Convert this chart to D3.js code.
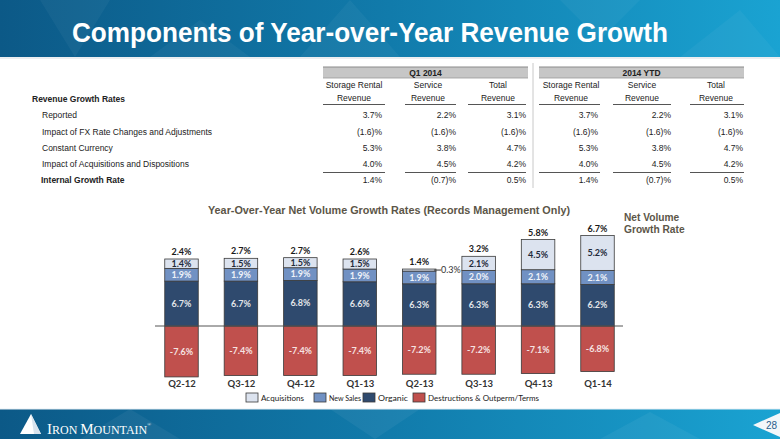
<!DOCTYPE html>
<html><head><meta charset="utf-8">
<script src="https://cdn.jsdelivr.net/npm/d3@7/dist/d3.min.js"></script>
<style>body{margin:0;background:#fff}svg{display:block}</style>
</head><body>
<svg id="c" width="780" height="439"></svg>
<script>
// ---------- data ----------
const title = "Components of Year-over-Year Revenue Growth";
const periodHeaders = ["Q1 2014", "2014 YTD"];
const columnHeaders = [["Storage Rental","Revenue"],["Service","Revenue"],["Total","Revenue"],["Storage Rental","Revenue"],["Service","Revenue"],["Total","Revenue"]];
const tableSection = "Revenue Growth Rates";
const rowLabels = ["Reported","Impact of FX Rate Changes and Adjustments","Constant Currency","Impact of Acquisitions and Dispositions","Internal Growth Rate"];
const rowValues = [
  ["3.7%","2.2%","3.1%","3.7%","2.2%","3.1%"],
  ["(1.6)%","(1.6)%","(1.6)%","(1.6)%","(1.6)%","(1.6)%"],
  ["5.3%","3.8%","4.7%","5.3%","3.8%","4.7%"],
  ["4.0%","4.5%","4.2%","4.0%","4.5%","4.2%"],
  ["1.4%","(0.7)%","0.5%","1.4%","(0.7)%","0.5%"]
];
const chartTitle = "Year-Over-Year Net Volume Growth Rates (Records Management Only)";
const quarters = ["Q2-12","Q3-12","Q4-12","Q1-13","Q2-13","Q3-13","Q4-13","Q1-14"];
const acquisitions = [1.4,1.5,1.5,1.5,0.3,2.1,4.5,5.2];
const newSales = [1.9,1.9,1.9,1.9,1.9,2.0,2.1,2.1];
const organic = [6.7,6.7,6.8,6.6,6.3,6.3,6.3,6.2];
const destructions = [-7.6,-7.4,-7.4,-7.4,-7.2,-7.2,-7.1,-6.8];
const netGrowth = [2.4,2.7,2.7,2.6,1.4,3.2,5.8,6.7];
const seriesNames = ["Acquisitions","New Sales","Organic","Destructions & Outperm/Terms"];
const pageNumber = "28";

// ---------- drawing ----------
const svg = d3.select("#c");
const defs = svg.append("defs");
const g1 = defs.append("linearGradient").attr("id","band").attr("x1","0").attr("x2","1").attr("y1","0").attr("y2","0");
g1.append("stop").attr("offset","0").attr("stop-color","#0c5987");
g1.append("stop").attr("offset","0.5").attr("stop-color","#117bab");
g1.append("stop").attr("offset","1").attr("stop-color","#1aa3d2");

// header banner
svg.append("rect").attr("x",0).attr("y",0).attr("width",780).attr("height",57).attr("fill","url(#band)");
const texture = [[[40,0],[110,0],[75,57]],[[300,57],[350,0],[400,57]],[[560,0],[640,0],[600,40]],[[680,57],[740,10],[780,57]],[[150,57],[200,20],[250,57]]];
svg.selectAll(".tx").data(texture).join("polygon").attr("points",d=>d.join(" ")).attr("fill","#ffffff").attr("opacity",0.04);
svg.append("line").attr("x1",0).attr("x2",780).attr("y1",58).attr("y2",58).attr("stroke","#d8dde2").attr("stroke-width",1);
svg.append("text").attr("x",370).attr("y",42).attr("text-anchor","middle")
  .attr("font-family","Liberation Sans, Arial, sans-serif").attr("font-weight","bold").attr("font-size",28)
  .attr("fill","#ffffff").attr("textLength",596).attr("lengthAdjust","spacingAndGlyphs").text(title);

// ---------- table ----------
const tf = "Liberation Sans, Arial, sans-serif";
const colRight = [382,456,526,598,671,743];
const colCenter = [354,428,498,571,642,716];
const colSpan = [[323,385],[405,456],[468,526],[539,600],[613,671],[690,744]];
const periodSpan = [[323,528],[539,744]];
const rowY = [115,131.5,147.5,163.5,180];
const tbl = svg.append("g").attr("font-family",tf).attr("font-size",8.5).attr("fill","#222");

periodSpan.forEach((s,i)=>{
  tbl.append("rect").attr("x",s[0]).attr("y",67).attr("width",s[1]-s[0]).attr("height",11).attr("fill","#c6c6c6");
  tbl.append("line").attr("x1",s[0]).attr("x2",s[1]).attr("y1",67).attr("y2",67).attr("stroke","#8a8a8a");
  tbl.append("line").attr("x1",s[0]).attr("x2",s[1]).attr("y1",78).attr("y2",78).attr("stroke","#9a9a9a").attr("stroke-width",0.8);
  tbl.append("text").attr("x",(s[0]+s[1])/2).attr("y",75.5).attr("text-anchor","middle").attr("font-weight","bold").text(periodHeaders[i]);
});
columnHeaders.forEach((h,i)=>{
  tbl.append("text").attr("x",colCenter[i]).attr("y",88).attr("text-anchor","middle").text(h[0]);
  tbl.append("text").attr("x",colCenter[i]).attr("y",100.5).attr("text-anchor","middle").text(h[1]);
  tbl.append("line").attr("x1",colSpan[i][0]).attr("x2",colSpan[i][1]).attr("y1",104.5).attr("y2",104.5).attr("stroke","#555").attr("stroke-width",1);
  tbl.append("line").attr("x1",colSpan[i][0]).attr("x2",colSpan[i][1]).attr("y1",172.5).attr("y2",172.5).attr("stroke","#555").attr("stroke-width",1.2);
});
tbl.append("line").attr("x1",533).attr("x2",533).attr("y1",63).attr("y2",188).attr("stroke","#c8c8c8");
tbl.append("text").attr("x",32).attr("y",101.5).attr("font-weight","bold").text(tableSection);
rowLabels.forEach((r,i)=>{
  tbl.append("text").attr("x",i===4?41:42).attr("y",rowY[i]+3).attr("font-weight",i===4?"bold":"normal").text(r);
  rowValues[i].forEach((v,j)=>{
    tbl.append("text").attr("x",colRight[j]).attr("y",rowY[i]+3).attr("text-anchor","end").text(v);
  });
});

// ---------- chart ----------
const cf = "Lato, Carlito, sans-serif";
const x = d3.scalePoint().domain(quarters).range([181.5,597.5]);
const y = d3.scaleLinear().domain([-8,14]).range([379.6,232.2]);
const bw = 33.5;
const colors = {acq:"#dce3ef", ns:"#7191c3", org:"#2f4a6e", des:"#c0504d"};
const chart = svg.append("g");

svg.append("text").attr("x",389).attr("y",214).attr("text-anchor","middle").attr("font-family",tf)
  .attr("font-weight","bold").attr("font-size",11.5).attr("fill","#5c5648")
  .attr("textLength",362).attr("lengthAdjust","spacingAndGlyphs").text(chartTitle);
svg.append("text").attr("x",624).attr("y",221).attr("font-family",tf).attr("font-weight","bold").attr("font-size",10.2).attr("fill","#5c5648").text("Net Volume");
svg.append("text").attr("x",624).attr("y",233).attr("font-family",tf).attr("font-weight","bold").attr("font-size",10.2).attr("fill","#5c5648").text("Growth Rate");

const rows = quarters.map((q,i)=>({q,acq:acquisitions[i],ns:newSales[i],org:organic[i],des:destructions[i],net:netGrowth[i]}));
const segs = [];
rows.forEach(r=>{
  segs.push({q:r.q,key:"des",y0:r.des,y1:0,v:r.des});
  segs.push({q:r.q,key:"org",y0:0,y1:r.org,v:r.org});
  segs.push({q:r.q,key:"ns",y0:r.org,y1:r.org+r.ns,v:r.ns});
  segs.push({q:r.q,key:"acq",y0:r.org+r.ns,y1:r.org+r.ns+r.acq,v:r.acq});
});
chart.selectAll("rect.seg").data(segs).join("rect").attr("class","seg")
  .attr("x",d=>x(d.q)-bw/2).attr("width",bw)
  .attr("y",d=>y(Math.max(d.y0,d.y1))).attr("height",d=>Math.abs(y(d.y0)-y(d.y1)))
  .attr("fill",d=>colors[d.key]).attr("stroke","#3a3a3a").attr("stroke-width",0.8);

// zero line
chart.append("line").attr("x1",155).attr("x2",623).attr("y1",y(0)).attr("y2",y(0)).attr("stroke","#555").attr("stroke-width",1);

const labelColor = {acq:"#1f2a3a", ns:"#eef2f8", org:"#e3e6ea", des:"#f6e3e2"};
const fmt = v=>v.toFixed(1)+"%";
chart.selectAll("text.seg").data(segs.filter(d=>Math.abs(d.v)>=1)).join("text").attr("class","seg")
  .attr("x",d=>x(d.q)).attr("y",d=>y((d.y0+d.y1)/2)+3.2).attr("text-anchor","middle")
  .attr("font-family",cf).attr("font-weight","bold").attr("font-size",9).attr("fill",d=>labelColor[d.key]).text(d=>fmt(d.v));
// small segments labelled outside with leader line
segs.filter(d=>Math.abs(d.v)<1).forEach(d=>{
  const yy = y((d.y0+d.y1)/2);
  chart.append("line").attr("x1",x(d.q)+bw/2-2).attr("x2",x(d.q)+bw/2+5).attr("y1",yy).attr("y2",yy).attr("stroke","#333").attr("stroke-width",1);
  chart.append("text").attr("x",x(d.q)+bw/2+5).attr("y",yy+3.2).attr("font-family",cf).attr("font-size",9).attr("fill","#333").text(fmt(d.v));
});
// totals
chart.selectAll("text.tot").data(rows).join("text").attr("class","tot")
  .attr("x",d=>x(d.q)).attr("y",d=>y(d.org+d.ns+d.acq)-4).attr("text-anchor","middle")
  .attr("font-family",cf).attr("font-weight","bold").attr("font-size",9).attr("fill","#1a1a1a").text(d=>fmt(d.net));

// x axis labels
const xAxis = d3.axisBottom(x).tickSize(0).tickPadding(0);
const ax = chart.append("g").attr("transform","translate(0,387)").call(xAxis);
ax.select(".domain").remove();
ax.selectAll("text").attr("font-family",cf).attr("font-weight","bold").attr("font-size",9.5).attr("fill","#333").attr("dy",0);

// legend
const legendX = [246,314,363,413];
const legendW = [43,32,30,111];
const legendKeys = ["acq","ns","org","des"];
const lg = chart.append("g");
seriesNames.forEach((n,i)=>{
  lg.append("rect").attr("x",legendX[i]).attr("y",393).attr("width",12).attr("height",9).attr("fill",colors[legendKeys[i]]).attr("stroke","#3a3a3a").attr("stroke-width",0.8);
  lg.append("text").attr("x",legendX[i]+15).attr("y",400.5).attr("font-family",cf).attr("font-size",7.8).attr("fill","#222")
    .attr("textLength",legendW[i]).attr("lengthAdjust","spacingAndGlyphs").text(n);
});

// ---------- footer ----------
svg.append("rect").attr("x",0).attr("y",409).attr("width",780).attr("height",30).attr("fill","url(#band)");
const tex2 = [[[80,439],[130,409],[180,439]],[[330,409],[420,409],[375,439]],[[600,439],[650,412],[700,439]]];
svg.selectAll(".tx2").data(tex2).join("polygon").attr("points",d=>d.join(" ")).attr("fill","#ffffff").attr("opacity",0.05);
svg.append("line").attr("x1",0).attr("x2",780).attr("y1",409).attr("y2",409).attr("stroke","#e6eef4").attr("stroke-width",1);
// logo
svg.append("polygon").attr("points","20,434 31,414 41,434").attr("fill","#ffffff");
svg.append("polygon").attr("points","31,414 41,434 34,434").attr("fill","#d8e4ee");
const logo = svg.append("text").attr("x",47).attr("y",434).attr("font-family","Liberation Serif, Times New Roman, serif").attr("fill","#ffffff")
  .attr("textLength",104).attr("lengthAdjust","spacing");
logo.append("tspan").attr("font-size",15).text("I");
logo.append("tspan").attr("font-size",12).text("RON ");
logo.append("tspan").attr("font-size",15).text("M");
logo.append("tspan").attr("font-size",12).text("OUNTAIN");
logo.append("tspan").attr("font-size",5).attr("dy",-8).text("®");
// page number
svg.append("polygon").attr("points","753,425 780,413 780,437").attr("fill","#f3f7fa");
svg.append("text").attr("x",777).attr("y",429).attr("text-anchor","end").attr("font-family",tf).attr("font-size",10).attr("fill","#2a5d8a").text(pageNumber);
</script>
</body></html>
